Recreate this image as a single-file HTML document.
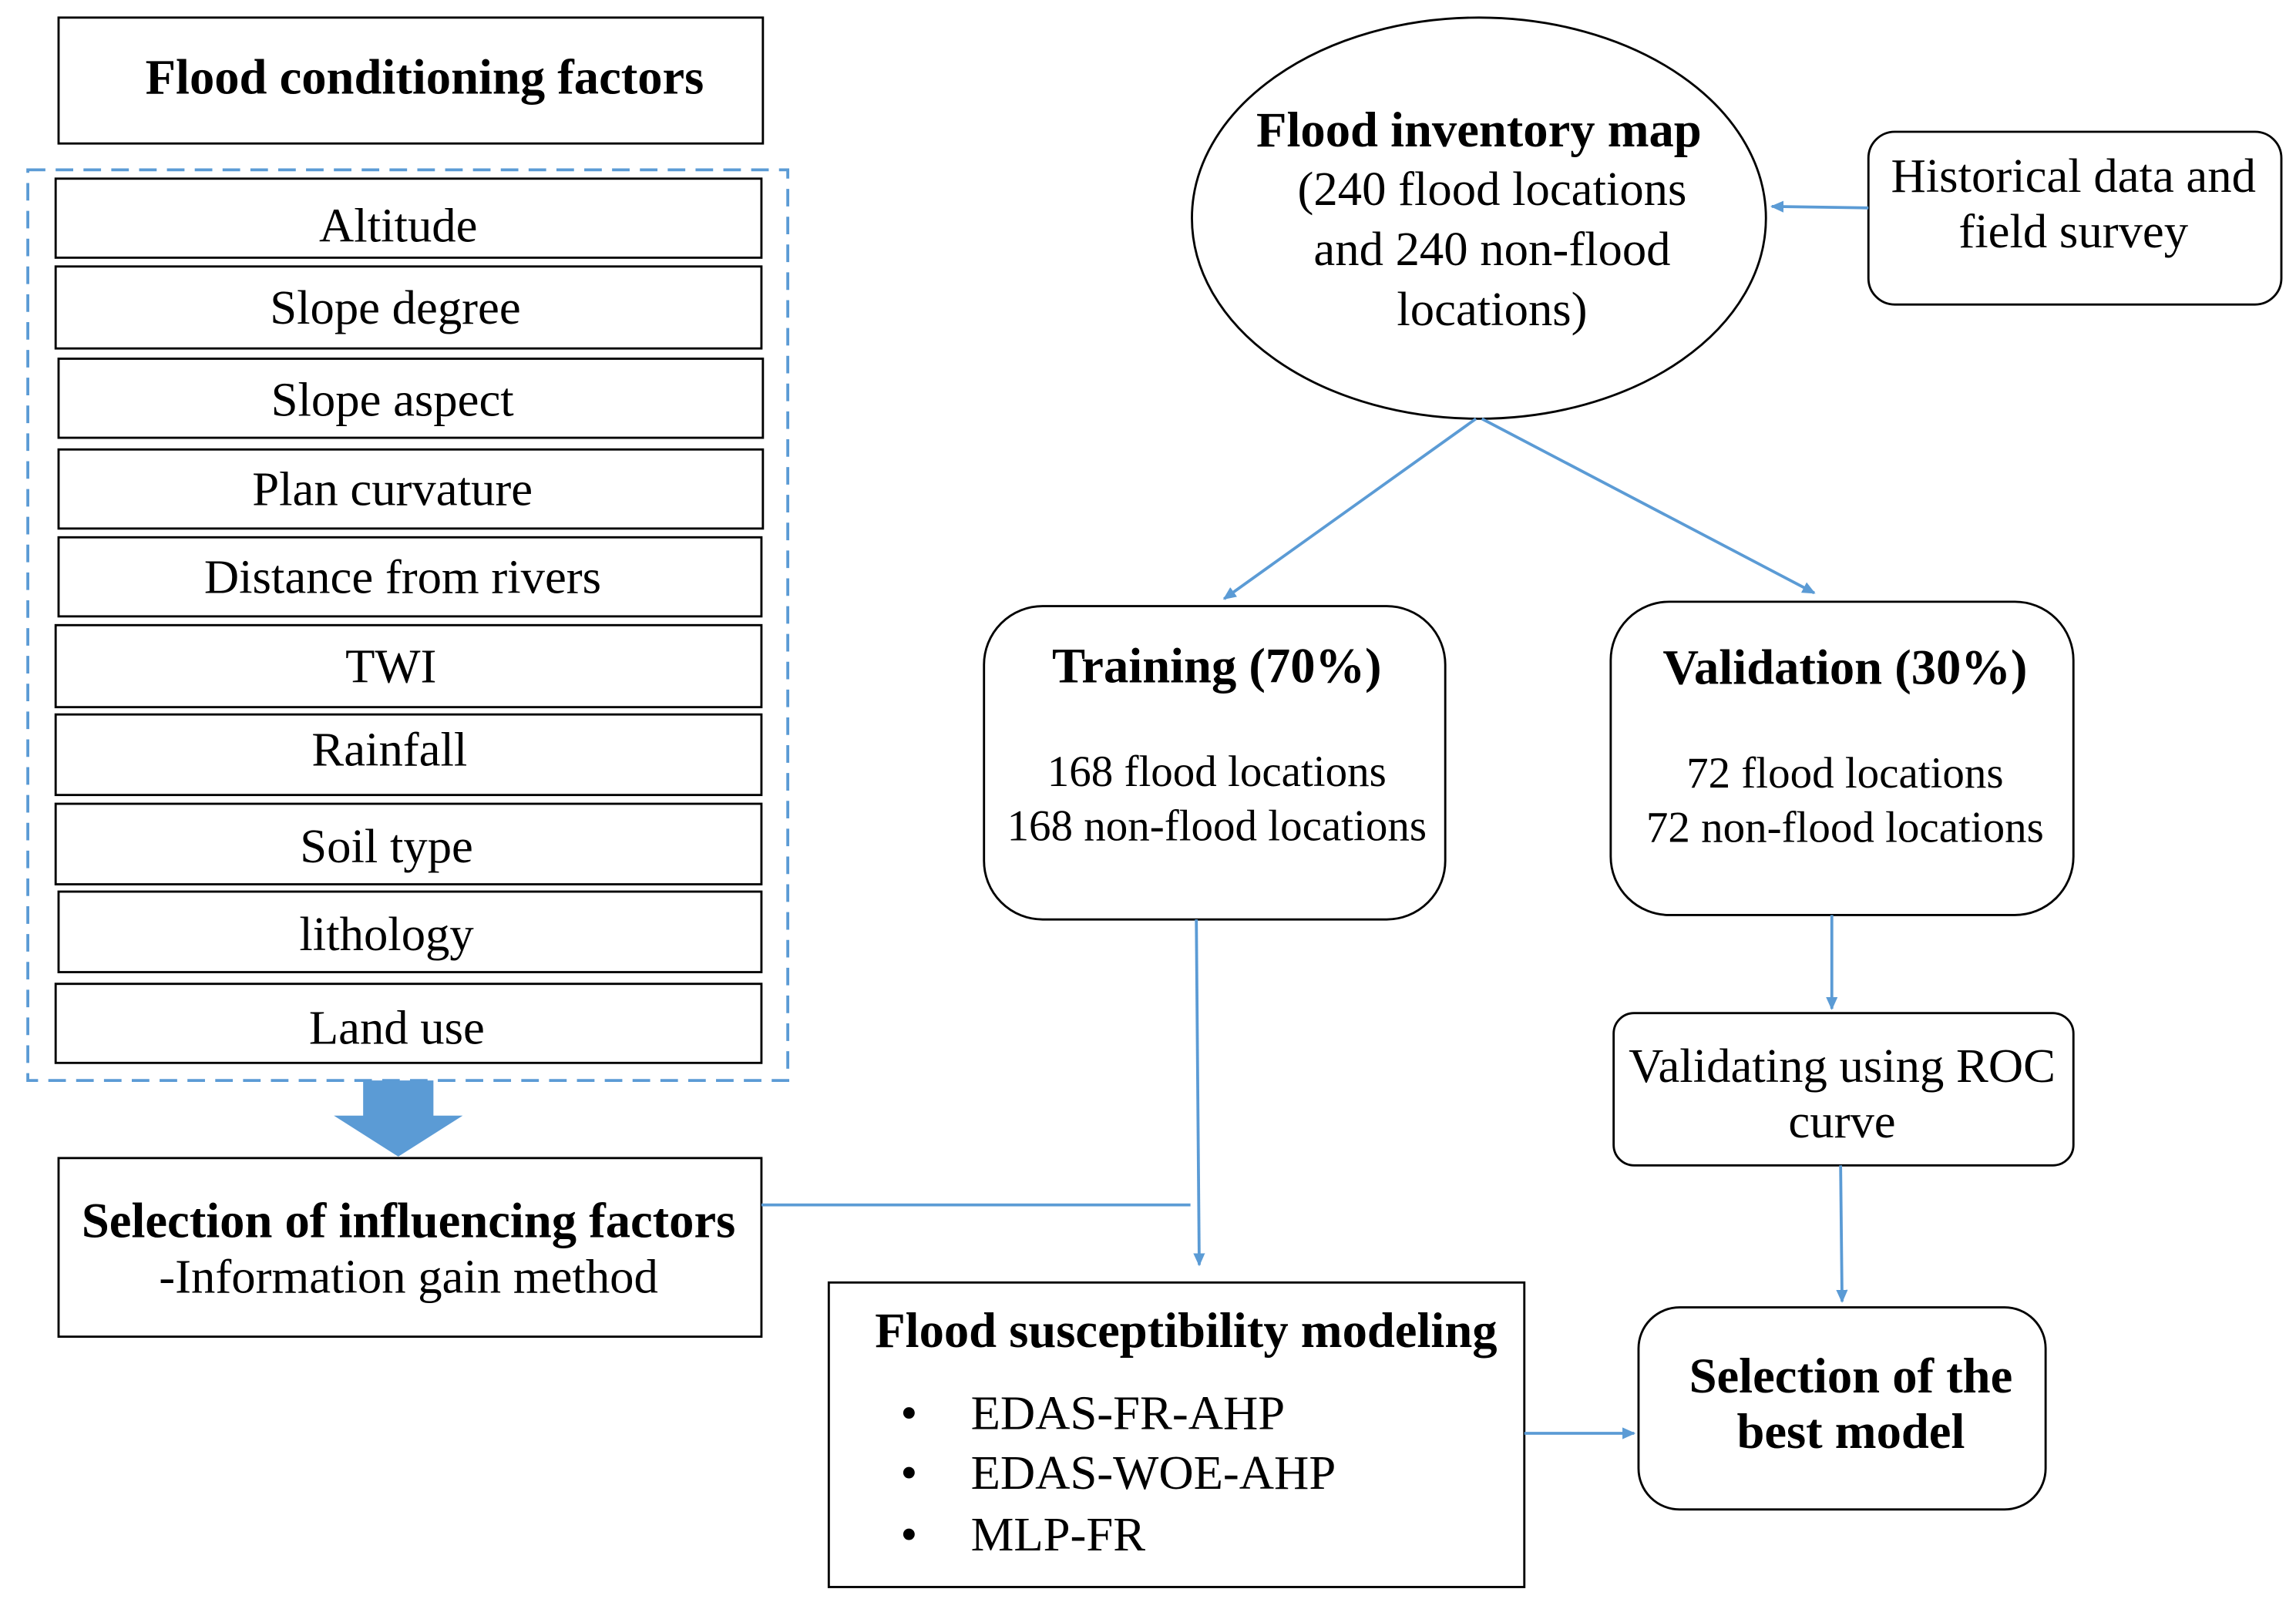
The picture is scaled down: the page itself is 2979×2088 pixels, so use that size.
<!DOCTYPE html>
<html><head><meta charset="utf-8"><style>
html,body{margin:0;padding:0;background:#fff;}
svg{display:block;}
text{font-family:"Liberation Serif",serif;fill:#000;}
.b{font-weight:bold;}
</style></head><body>
<svg width="2979" height="2088" viewBox="0 0 1568 1099" xmlns="http://www.w3.org/2000/svg">
<defs>
<marker id="ah" markerWidth="10" markerHeight="10" refX="8" refY="5" orient="auto" markerUnits="userSpaceOnUse">
<path d="M0,1 L9,5 L0,9 Z" fill="#5B9BD5"/></marker>
</defs>
<rect width="1568" height="1099" fill="#fff"/>
<g fill="none" stroke="#000" stroke-width="1.5">
<rect x="40" y="12" width="481" height="86"/>
<rect x="38" y="122" width="482" height="54"/>
<rect x="38" y="182" width="482" height="56"/>
<rect x="40" y="245" width="481" height="54"/>
<rect x="40" y="307" width="481" height="54"/>
<rect x="40" y="367" width="480" height="54"/>
<rect x="38" y="427" width="482" height="56"/>
<rect x="38" y="488" width="482" height="55"/>
<rect x="38" y="549" width="482" height="55"/>
<rect x="40" y="609" width="480" height="55"/>
<rect x="38" y="672" width="482" height="54"/>
<rect x="40" y="791" width="480" height="122"/>
<ellipse cx="1010" cy="149" rx="196" ry="137"/>
<rect x="1276" y="90" width="282" height="118" rx="18"/>
<rect x="672" y="414" width="315" height="214" rx="40"/>
<rect x="1100" y="411" width="316" height="214" rx="40"/>
<rect x="1102" y="692" width="314" height="104" rx="14"/>
<rect x="1119" y="893" width="278" height="138" rx="28"/>
<rect x="566" y="876" width="475" height="208"/>
</g>
<rect x="19" y="116" width="519" height="622" fill="none" stroke="#5B9BD5" stroke-width="2" stroke-dasharray="12,7"/>
<path d="M248,738 L296,738 L296,762 L316,762 L272,790 L228,762 L248,762 Z" fill="#5B9BD5"/>
<g stroke="#5B9BD5" stroke-width="2" fill="none">
<line x1="520" y1="823" x2="813" y2="823"/>
<line x1="1276" y1="142" x2="1210" y2="141" marker-end="url(#ah)"/>
<line x1="1008" y1="286" x2="836" y2="409" marker-end="url(#ah)"/>
<line x1="1012" y1="286" x2="1239" y2="405" marker-end="url(#ah)"/>
<line x1="817" y1="628" x2="819" y2="864" marker-end="url(#ah)"/>
<line x1="1251" y1="625" x2="1251" y2="689" marker-end="url(#ah)"/>
<line x1="1257" y1="796" x2="1258" y2="889" marker-end="url(#ah)"/>
<line x1="1041" y1="979" x2="1116" y2="979" marker-end="url(#ah)"/>
</g>
<g text-anchor="middle" font-size="33">
<text x="290" y="64" class="b" font-size="34">Flood conditioning factors</text>
<text x="272" y="165">Altitude</text>
<text x="270" y="221">Slope degree</text>
<text x="268" y="284">Slope aspect</text>
<text x="268" y="345">Plan curvature</text>
<text x="275" y="405">Distance from rivers</text>
<text x="267" y="466">TWI</text>
<text x="266" y="523">Rainfall</text>
<text x="264" y="589">Soil type</text>
<text x="264" y="649">lithology</text>
<text x="271" y="713">Land use</text>
<text x="279" y="845" class="b" font-size="34">Selection of influencing factors</text>
<text x="279" y="883">-Information gain method</text>
<text x="1010" y="100" class="b" font-size="34">Flood inventory map</text>
<text x="1019" y="140">(240 flood locations</text>
<text x="1019" y="181">and 240 non-flood</text>
<text x="1019" y="222">locations)</text>
<text x="1416" y="131">Historical data and</text>
<text x="1416" y="169">field survey</text>
<text x="831" y="466" class="b" font-size="34">Training (70%)</text>
<text x="831" y="537" font-size="30">168 flood locations</text>
<text x="831" y="574" font-size="30">168 non-flood locations</text>
<text x="1260" y="467" class="b" font-size="34">Validation (30%)</text>
<text x="1260" y="538" font-size="30">72 flood locations</text>
<text x="1260" y="575" font-size="30">72 non-flood locations</text>
<text x="1258" y="739">Validating using ROC</text>
<text x="1258" y="777">curve</text>
<text x="1264" y="951" class="b" font-size="34">Selection of the</text>
<text x="1264" y="989" class="b" font-size="34">best model</text>
<text x="810" y="920" class="b" font-size="34">Flood susceptibility modeling</text>
</g>
<g font-size="33">
<text x="615" y="976">•</text><text x="663" y="976">EDAS-FR-AHP</text>
<text x="615" y="1017">•</text><text x="663" y="1017">EDAS-WOE-AHP</text>
<text x="615" y="1059">•</text><text x="663" y="1059">MLP-FR</text>
</g>
</svg>
</body></html>
